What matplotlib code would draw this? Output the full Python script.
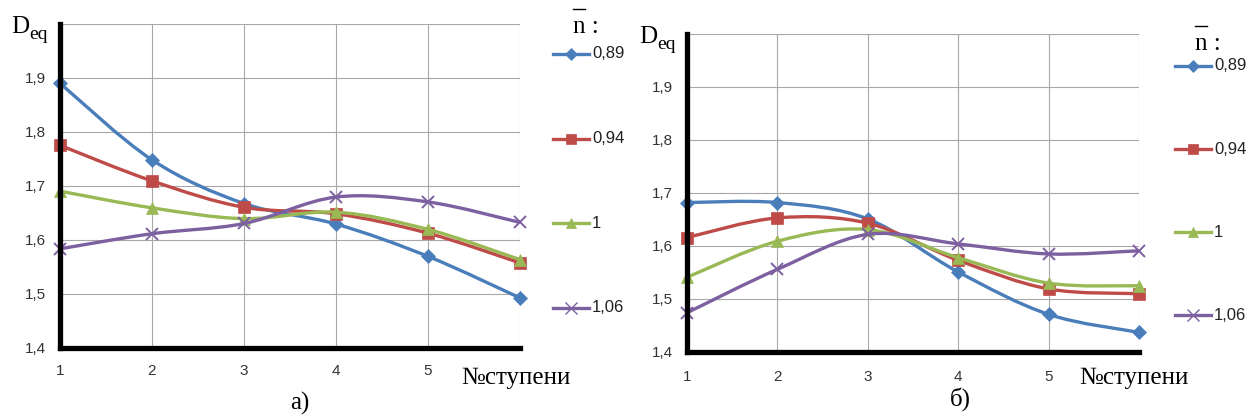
import numpy as np
import matplotlib
matplotlib.use("Agg")
import matplotlib.pyplot as plt
from matplotlib.path import Path
from matplotlib.patches import PathPatch
from matplotlib.lines import Line2D
from matplotlib.ticker import FuncFormatter

# data
steps = [1, 2, 3, 4, 5, 6]
series_names = ['0,89', '0,94', '1', '1,06']

a_089 = [1.890, 1.748, 1.667, 1.629, 1.569, 1.492]
a_094 = [1.775, 1.709, 1.660, 1.648, 1.612, 1.557]
a_100 = [1.690, 1.659, 1.639, 1.651, 1.619, 1.563]
a_106 = [1.583, 1.611, 1.630, 1.679, 1.670, 1.632]

b_089 = [1.682, 1.682, 1.651, 1.551, 1.471, 1.437]
b_094 = [1.616, 1.653, 1.643, 1.573, 1.519, 1.510]
b_100 = [1.541, 1.609, 1.631, 1.578, 1.530, 1.525]
b_106 = [1.474, 1.556, 1.622, 1.604, 1.585, 1.591]

colors = ['#4a7ebb', '#be4b48', '#98b954', '#7d60a0']
markers = ['D', 's', '^', 'x']
msizes = [7, 8, 8.5, 9]

W, H = 1255, 420
fig = plt.figure(figsize=(W / 100, H / 100), dpi=100)

serif = ['Liberation Serif', 'DejaVu Serif']
sans = ['Liberation Sans', 'DejaVu Sans']


def fx(x):
    return x / W


def fy(y):
    return 1 - y / H


def smooth_path(xs, ys):
    # Excel-like smoothed line: bezier with control points from neighbours
    p = np.column_stack([xs, ys]).astype(float)
    n = len(p)
    verts = [p[0]]
    codes = [Path.MOVETO]
    for i in range(n - 1):
        p0 = p[max(i - 1, 0)]
        p3 = p[min(i + 2, n - 1)]
        c1 = p[i] + (p[i + 1] - p0) / 6
        c2 = p[i + 1] - (p3 - p[i]) / 6
        verts += [c1, c2, p[i + 1]]
        codes += [Path.CURVE4] * 3
    return Path(verts, codes)


def ytick_fmt(v, pos):
    if v > 1.95:
        return ''
    return ('%.1f' % v).replace('.', ',')


def xtick_fmt(v, pos):
    if v > 5.5:
        return ''
    return '%d' % v


def draw_panel(rect, data, xpad, legend_x, legend_y, legend_step):
    ax = fig.add_axes(rect)
    for k, vals in enumerate(data):
        patch = PathPatch(smooth_path(steps, vals), fill=False,
                          edgecolor=colors[k], lw=2.4, zorder=3 + k)
        ax.add_patch(patch)
        ax.plot(steps, vals, ls='none', marker=markers[k], ms=msizes[k],
                color=colors[k], mew=1.4 if markers[k] == 'x' else 0.5,
                zorder=3.5 + k, clip_on=False)
    ax.set_xlim(1, 6)
    ax.set_ylim(1.4, 2.0)
    ax.set_xticks(steps)
    ax.set_yticks([1.4, 1.5, 1.6, 1.7, 1.8, 1.9, 2.0])
    ax.xaxis.set_major_formatter(FuncFormatter(xtick_fmt))
    ax.yaxis.set_major_formatter(FuncFormatter(ytick_fmt))
    ax.grid(True, color='#a8a8a8', lw=0.8)
    ax.set_axisbelow(True)
    ax.tick_params(length=0, labelsize=11, labelcolor='#333333')
    ax.tick_params(axis='y', pad=10)
    ax.tick_params(axis='x', pad=xpad)
    for t in ax.get_xticklabels() + ax.get_yticklabels():
        t.set_family(sans)
    ax.spines['top'].set_visible(False)
    ax.spines['right'].set_visible(False)
    for s in ['left', 'bottom']:
        ax.spines[s].set_linewidth(3.8)
        ax.spines[s].set_capstyle('projecting')
        ax.spines[s].set_zorder(10)

    # legend, one handle per row
    for k in range(4):
        yy = legend_y + k * legend_step
        fig.add_artist(Line2D([fx(legend_x), fx(legend_x + 36)], [fy(yy), fy(yy)],
                              color=colors[k], lw=2.4))
        fig.add_artist(Line2D([fx(legend_x + 18)], [fy(yy)], marker=markers[k],
                              ms=msizes[k] - 1, color=colors[k],
                              mew=1.0 if markers[k] == 'x' else 0.5, ls='none'))
        fig.text(fx(legend_x + 39), fy(yy), series_names[k], fontsize=12,
                 family=sans, color='#222222', va='center', ha='left')
    return ax


ax_a = draw_panel([fx(60), fy(347.5), fx(460), (347.5 - 24) / H],
                  [a_089, a_094, a_100, a_106], 12, 553, 54, 84.5)
ax_b = draw_panel([fx(687), fy(352), fx(452), (352 - 34) / H],
                  [b_089, b_094, b_100, b_106], 13, 1175, 66, 83)

# axis titles and captions
for (dx, dy, ex, ey) in [(11, 33, 29, 39), (639, 43, 657, 49)]:
    fig.text(fx(dx), fy(dy), 'D', fontsize=18, family=serif, va='baseline')
    fig.text(fx(ex), fy(ey), 'eq', fontsize=14, family=serif, va='baseline')

fig.text(fx(461), fy(378), '№ступени', fontsize=18, family=serif, va='center')
fig.text(fx(1079), fy(378), '№ступени', fontsize=18, family=serif, va='center')
fig.text(fx(300), fy(403), 'а)', fontsize=18, family=serif, va='center', ha='center')
fig.text(fx(960), fy(399), 'б)', fontsize=18, family=serif, va='center', ha='center')

# legend header: n with a bar above
for (nx, ny, by) in [(573, 27, 9), (1195, 44, 26)]:
    fig.text(fx(nx), fy(ny), 'n :', fontsize=18, family=serif, va='center')
    fig.add_artist(Line2D([fx(nx), fx(nx + 12)], [fy(by), fy(by)], color='black', lw=1))

fig.savefig('out.png', dpi=100)
